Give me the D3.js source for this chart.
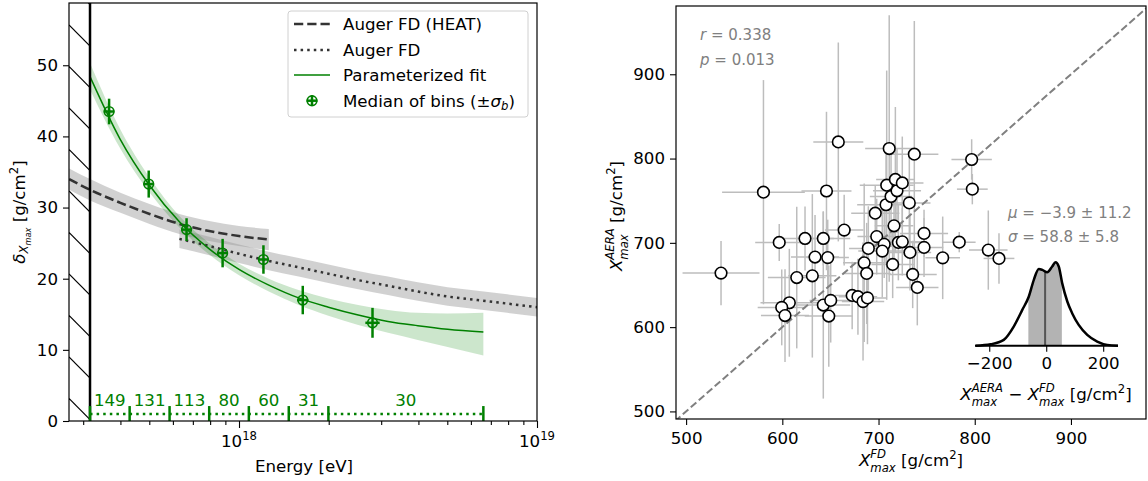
<!DOCTYPE html>
<html><head><meta charset="utf-8">
<script src="https://cdn.jsdelivr.net/npm/d3@7"></script>
<style>body{margin:0;background:#fff} text{font-family:"DejaVu Sans",sans-serif;white-space:pre}</style>
</head><body><svg id="c" width="1148" height="481"></svg>
<script>
// ---------------- DATA (left panel) ----------------
const thresholdLgE = 17.5;
const binEdgesLgE = [17.5, 17.633, 17.767, 17.9, 18.033, 18.167, 18.3, 18.82];
const binCounts = [149, 131, 113, 80, 60, 31, 30];
const medianLgE = [17.564, 17.697, 17.824, 17.945, 18.082, 18.214, 18.448];
const medianVal = [43.5, 33.3, 26.9, 23.6, 22.7, 17.0, 13.8];
const medianErr = [1.8, 1.9, 1.6, 2.0, 2.0, 2.0, 2.1];
const medianLgEErr = [0.018, 0.018, 0.018, 0.018, 0.018, 0.019, 0.024];
const fitLgE = [17.5, 17.6, 17.7, 17.8, 17.9, 18.0, 18.1, 18.2, 18.3, 18.4, 18.5, 18.6, 18.7, 18.82];
const fitVal = [48.4, 39.7, 33.1, 28.0, 24.2, 21.3, 19.1, 17.3, 16.0, 14.9, 14.0, 13.4, 12.9, 12.5];
const fitLo  = [46.6, 38.4, 32.1, 27.2, 23.4, 20.5, 18.2, 16.3, 14.8, 13.5, 12.4, 11.4, 10.4, 9.2];
const fitHi  = [50.3, 41.1, 34.2, 28.8, 25.0, 22.1, 20.0, 18.4, 17.2, 16.3, 15.6, 15.2, 15.1, 15.2];
const heatLgE = [17.43, 17.5, 17.6, 17.7, 17.8, 17.9, 18.0, 18.1];
const heatVal = [34.0, 32.5, 30.7, 29.1, 27.7, 26.7, 26.0, 25.5];
const heatLo  = [32.5, 31.0, 29.3, 27.7, 26.3, 25.3, 24.6, 24.0];
const heatHi  = [35.5, 34.0, 32.1, 30.5, 29.1, 28.1, 27.4, 27.0];
const fdLgE = [17.8, 17.9, 18.0, 18.1, 18.2, 18.3, 18.4, 18.5, 18.6, 18.7, 18.8, 18.9, 19.0];
const fdVal = [25.6, 24.6, 23.5, 22.5, 21.6, 20.7, 19.8, 19.0, 18.2, 17.5, 17.0, 16.5, 16.0];
const fdLo  = [24.3, 23.3, 22.2, 21.2, 20.3, 19.4, 18.5, 17.7, 16.9, 16.2, 15.7, 15.2, 14.7];
const fdHi  = [26.9, 25.9, 24.8, 23.8, 22.9, 22.0, 21.1, 20.3, 19.5, 18.8, 18.3, 17.8, 17.3];
const leftYTicks = [0, 10, 20, 30, 40, 50];
const leftXMajor = [18, 19];
const legendLabels = ["Auger FD (HEAT)", "Auger FD", "Parameterized fit", "Median of bins"];

// ---------------- DATA (right panel) ----------------
const xFD = [536.3,580.4,658.2,645.9,664.3,596.8,623.6,642.6,634.0,647.2,615.0,631.2,607.3,599.4,602.8,642.6,650.3,648.3,672.6,678.6,683.9,688.5,685.1,687.7,689.4,696.6,698.1,705.9,703.9,707.8,713.0,719.2,708.5,717.5,724.7,711.1,737.2,796.8,797.5,732.0,716.1,747.3,720.6,724.7,783.9,732.7,747.3,766.7,814.1,825.2,714.7,735.5,740.3];
const yAERA = [664.1,760.1,819.7,761.5,715.1,700.5,705.2,705.2,683.1,682.5,658.8,660.9,628.9,623.4,613.7,626.2,631.7,613.1,637.6,636.1,630.3,634.7,676.3,663.7,693.4,735.2,707.4,698.2,690.2,745.2,755.0,761.7,768.4,775.2,771.1,811.9,805.2,798.9,763.7,747.4,720.2,711.2,700.5,701.2,700.8,688.6,694.6,682.2,691.4,681.5,674.4,662.5,647.1];
const xErr = [40,43,26,26,20,25,30,28,25,22,30,25,30,25,25,28,22,25,18,20,22,20,22,25,20,25,20,22,25,30,22,25,28,20,22,25,25,21,16,22,20,25,22,20,17,22,20,18,20,16,22,25,22];
const yErr = [38,133,118,94,42,22,38,32,50,45,84,97,64,45,55,111,50,60,40,45,70,55,94,60,50,33,45,40,55,70,60,50,136,86,55,158,158,24,18,59,40,28,45,40,12,45,35,49,47,30,40,40,45];
const rightTicks = [500, 600, 700, 800, 900];
const statR = "0.338", statP = "0.013";
const diffMean = -3.9, diffMeanErr = 11.2, diffSigma = 58.8, diffSigmaErr = 5.8;
const kdeX = [-248,-195,-149,-114,-84,-61,-43.5,-26,-14,3.5,21,32.6,44,56,74,91,114,144,179,214,252];
const kdeY = [0,0.017,0.07,0.23,0.43,0.59,0.79,0.92,0.91,0.88,0.95,1.0,0.95,0.75,0.53,0.39,0.25,0.13,0.05,0.01,0];
const insetTicks = [-200, 0, 200];

// ---------------- helpers ----------------
const svg = d3.select('#c');
const FS = 16.67;
const GREEN = '#008000';
const SUP = -0.46, SUB = 0.36;

function mathText(parent, x, y, parts, opt) {
  opt = opt || {};
  const fs = opt.fs || FS, color = opt.color || '#000';
  const outer = parent.append('g');
  const grp = outer.append('g');
  let cx = 0, prevStart = 0;
  parts.forEach(p => {
    const sz = fs * (p.sc || 1);
    const start = p.stack ? prevStart : cx;
    const t = grp.append('text').attr('x', start).attr('y', (p.dy || 0) * fs)
      .attr('font-size', sz).attr('font-style', p.it ? 'italic' : 'normal')
      .attr('fill', color).text(p.t);
    const w = t.node().getComputedTextLength();
    if (!p.stack) { prevStart = start; cx = start + w; }
    else { cx = Math.max(cx, start + w); }
  });
  const anchor = opt.anchor || 'start';
  const shift = anchor === 'middle' ? -cx / 2 : anchor === 'end' ? -cx : 0;
  grp.attr('transform', `translate(${shift},0)`);
  outer.attr('transform', `translate(${x},${y}) rotate(${opt.rotate || 0})`);
  return outer;
}

// ================= LEFT PANEL =================
const L = { x0: 69, x1: 537, y0: 3, y1: 421 };
const xL = d3.scaleLog().domain([Math.pow(10, 17.4295), 1e19]).range([L.x0, L.x1]);
const yL = d3.scaleLinear().domain([0, 58.75]).range([L.y1, L.y0]);
const E = lg => Math.pow(10, lg);

svg.append('clipPath').attr('id', 'clipL').append('rect')
  .attr('x', L.x0).attr('y', L.y0).attr('width', L.x1 - L.x0).attr('height', L.y1 - L.y0);
const gL = svg.append('g').attr('clip-path', 'url(#clipL)');

const bandArea = (lgs, lo, hi) => d3.area().x((d, i) => xL(E(lgs[i]))).y0((d, i) => yL(lo[i])).y1((d, i) => yL(hi[i])).curve(d3.curveMonotoneX)(lgs);
const lineGen = (lgs, vals) => d3.line().x((d, i) => xL(E(lgs[i]))).y((d, i) => yL(vals[i])).curve(d3.curveMonotoneX)(lgs);

gL.append('path').attr('d', bandArea(heatLgE, heatLo, heatHi)).attr('fill', '#999').attr('fill-opacity', 0.45);
gL.append('path').attr('d', bandArea(fdLgE, fdLo, fdHi)).attr('fill', '#999').attr('fill-opacity', 0.45);
gL.append('path').attr('d', bandArea(fitLgE, fitLo, fitHi)).attr('fill', GREEN).attr('fill-opacity', 0.2);

// hatched region below threshold
const hx1 = xL(E(thresholdLgE));
const gH = gL.append('g');
svg.append('clipPath').attr('id', 'clipH').append('rect')
  .attr('x', L.x0).attr('y', L.y0).attr('width', hx1 - L.x0).attr('height', L.y1 - L.y0);
gH.attr('clip-path', 'url(#clipH)');
for (let yy = -16.5; yy < L.y1 + 10; yy += 41.5) {
  gH.append('line').attr('x1', L.x0).attr('y1', yy).attr('x2', hx1).attr('y2', yy + (hx1 - L.x0))
    .attr('stroke', '#000').attr('stroke-width', 1.1);
}

gL.append('path').attr('d', lineGen(heatLgE, heatVal)).attr('fill', 'none').attr('stroke', '#333')
  .attr('stroke-width', 2.5).attr('stroke-dasharray', '9.25,4');
gL.append('path').attr('d', lineGen(fdLgE, fdVal)).attr('fill', 'none').attr('stroke', '#333')
  .attr('stroke-width', 2.5).attr('stroke-dasharray', '2.5,4.1');
gL.append('path').attr('d', lineGen(fitLgE, fitVal)).attr('fill', 'none').attr('stroke', GREEN)
  .attr('stroke-width', 1.5);

gL.append('line').attr('x1', hx1).attr('x2', hx1).attr('y1', L.y0).attr('y2', L.y1)
  .attr('stroke', '#000').attr('stroke-width', 2.5);

// bins
gL.append('line').attr('x1', xL(E(binEdgesLgE[0]))).attr('x2', xL(E(binEdgesLgE[binEdgesLgE.length - 1])))
  .attr('y1', yL(1)).attr('y2', yL(1)).attr('stroke', GREEN).attr('stroke-width', 2.5).attr('stroke-dasharray', '2.5,4.1');
gL.selectAll('.binTick').data(binEdgesLgE).enter().append('line')
  .attr('x1', d => xL(E(d))).attr('x2', d => xL(E(d))).attr('y1', yL(0)).attr('y2', yL(2.1))
  .attr('stroke', GREEN).attr('stroke-width', 2.5);
svg.selectAll('.binLab').data(binCounts).enter().append('text')
  .attr('x', (d, i) => (xL(E(binEdgesLgE[i])) + xL(E(binEdgesLgE[i + 1]))) / 2)
  .attr('y', 406).attr('text-anchor', 'middle').attr('font-size', FS).attr('fill', GREEN).text(d => d);

// medians
const gM = svg.append('g');
medianLgE.forEach((lg, i) => {
  const cx = xL(E(lg)), cy = yL(medianVal[i]);
  gM.append('line').attr('x1', cx).attr('x2', cx).attr('y1', yL(medianVal[i] - medianErr[i])).attr('y2', yL(medianVal[i] + medianErr[i]))
    .attr('stroke', GREEN).attr('stroke-width', 2.5);
  gM.append('line').attr('x1', xL(E(lg - medianLgEErr[i]))).attr('x2', xL(E(lg + medianLgEErr[i]))).attr('y1', cy).attr('y2', cy)
    .attr('stroke', GREEN).attr('stroke-width', 2.5);
  gM.append('circle').attr('cx', cx).attr('cy', cy).attr('r', 4.8).attr('fill', 'none')
    .attr('stroke', GREEN).attr('stroke-width', 1.6);
});

// axes
const axYL = svg.append('g').attr('transform', `translate(${L.x0},0)`)
  .call(d3.axisLeft(yL).tickValues(leftYTicks).tickSize(6).tickPadding(5).tickFormat(d3.format('d')));
const minorL = [];
for (let dec = 17; dec <= 18; dec++) for (let m = 2; m <= 9; m++) { const v = m * Math.pow(10, dec); if (v > xL.domain()[0] && v < 1e19) minorL.push(v); }
const axXLm = svg.append('g').attr('transform', `translate(0,${L.y1})`)
  .call(d3.axisBottom(xL).tickValues(minorL).tickSize(4).tickFormat(''));
const axXL = svg.append('g').attr('transform', `translate(0,${L.y1})`)
  .call(d3.axisBottom(xL).tickValues(leftXMajor.map(E)).tickSize(7).tickFormat(''));
[axYL, axXLm, axXL].forEach(a => {
  a.select('.domain').remove();
  a.selectAll('line').attr('stroke-width', 1.1);
  a.selectAll('text').attr('font-size', FS).attr('font-family', null).attr('fill', '#000');
});
leftXMajor.forEach(p => {
  mathText(svg, xL(E(p)), 447, [{ t: '10' }, { t: String(p), sc: 0.7, dy: -0.42 }], { anchor: 'middle' });
});
svg.append('rect').attr('x', L.x0).attr('y', L.y0).attr('width', L.x1 - L.x0).attr('height', L.y1 - L.y0)
  .attr('fill', 'none').attr('stroke', '#000').attr('stroke-width', 1.2);

svg.append('text').attr('x', (L.x0 + L.x1) / 2 + 1).attr('y', 472).attr('text-anchor', 'middle').attr('font-size', FS).text('Energy [eV]');
mathText(svg, 25, 212, [
  { t: 'δ', it: true }, { t: 'X', it: true, sc: 0.7, dy: 0.2 }, { t: 'max', it: true, sc: 0.49, dy: 0.33 },
  { t: ' [g/cm' }, { t: '2', sc: 0.7, dy: -0.4 }, { t: ']' }
], { anchor: 'middle', rotate: -90 });

// legend
const lg = svg.append('g');
lg.append('rect').attr('x', 288).attr('y', 11).attr('width', 240).attr('height', 106).attr('rx', 3)
  .attr('fill', '#fff').attr('fill-opacity', 0.8).attr('stroke', '#d0d0d0').attr('stroke-width', 1);
const rows = [24, 50, 75, 100.7];
lg.append('line').attr('x1', 294).attr('x2', 330).attr('y1', rows[0]).attr('y2', rows[0]).attr('stroke', '#333').attr('stroke-width', 2.5).attr('stroke-dasharray', '9.25,4');
lg.append('line').attr('x1', 294).attr('x2', 330).attr('y1', rows[1]).attr('y2', rows[1]).attr('stroke', '#333').attr('stroke-width', 2.5).attr('stroke-dasharray', '2.5,4.1');
lg.append('line').attr('x1', 294).attr('x2', 330).attr('y1', rows[2]).attr('y2', rows[2]).attr('stroke', GREEN).attr('stroke-width', 1.5);
lg.append('line').attr('x1', 312).attr('x2', 312).attr('y1', rows[3] - 5.5).attr('y2', rows[3] + 5.5).attr('stroke', GREEN).attr('stroke-width', 2.5);
lg.append('line').attr('x1', 306.5).attr('x2', 317.5).attr('y1', rows[3]).attr('y2', rows[3]).attr('stroke', GREEN).attr('stroke-width', 2.5);
lg.append('circle').attr('cx', 312).attr('cy', rows[3]).attr('r', 4.8).attr('fill', 'none').attr('stroke', GREEN).attr('stroke-width', 1.6);
for (let i = 0; i < 3; i++) lg.append('text').attr('x', 343).attr('y', rows[i] + 6).attr('font-size', FS).text(legendLabels[i]);
mathText(lg, 343, rows[3] + 6, [{ t: legendLabels[3] + ' (±' }, { t: 'σ', it: true }, { t: 'b', it: true, sc: 0.7, dy: 0.22 }, { t: ')' }]);

// ================= RIGHT PANEL =================
const R = { x0: 676, x1: 1146, y0: 6, y1: 419 };
const xR = d3.scaleLinear().domain([489.5, 978]).range([R.x0, R.x1]);
const yR = d3.scaleLinear().domain([491, 981]).range([R.y1, R.y0]);
svg.append('clipPath').attr('id', 'clipR').append('rect')
  .attr('x', R.x0).attr('y', R.y0).attr('width', R.x1 - R.x0).attr('height', R.y1 - R.y0);
const gR = svg.append('g').attr('clip-path', 'url(#clipR)');

const pts = xFD.map((x, i) => ({ x, y: yAERA[i], ex: xErr[i], ey: yErr[i] }));
gR.selectAll('.ex').data(pts).enter().append('line')
  .attr('x1', d => xR(d.x - d.ex)).attr('x2', d => xR(d.x + d.ex)).attr('y1', d => yR(d.y)).attr('y2', d => yR(d.y))
  .attr('stroke', '#bdbdbd').attr('stroke-width', 1.5);
gR.selectAll('.ey').data(pts).enter().append('line')
  .attr('x1', d => xR(d.x)).attr('x2', d => xR(d.x)).attr('y1', d => yR(d.y - d.ey)).attr('y2', d => yR(d.y + d.ey))
  .attr('stroke', '#bdbdbd').attr('stroke-width', 1.5);
gR.append('line').attr('x1', xR(480)).attr('y1', yR(480)).attr('x2', xR(990)).attr('y2', yR(990))
  .attr('stroke', '#808080').attr('stroke-width', 2).attr('stroke-dasharray', '7.4,3.2');
gR.selectAll('.pt').data(pts).enter().append('circle')
  .attr('cx', d => xR(d.x)).attr('cy', d => yR(d.y)).attr('r', 5.8)
  .attr('fill', '#fff').attr('stroke', '#000').attr('stroke-width', 1.6);

const axXR = svg.append('g').attr('transform', `translate(0,${R.y1})`)
  .call(d3.axisBottom(xR).tickValues(rightTicks).tickSize(6).tickPadding(7).tickFormat(d3.format('d')));
const axYR = svg.append('g').attr('transform', `translate(${R.x0},0)`)
  .call(d3.axisLeft(yR).tickValues(rightTicks).tickSize(6).tickPadding(5).tickFormat(d3.format('d')));
[axXR, axYR].forEach(a => {
  a.select('.domain').remove();
  a.selectAll('line').attr('stroke-width', 1.1);
  a.selectAll('text').attr('font-size', FS).attr('font-family', null).attr('fill', '#000');
});
svg.append('rect').attr('x', R.x0).attr('y', R.y0).attr('width', R.x1 - R.x0).attr('height', R.y1 - R.y0)
  .attr('fill', 'none').attr('stroke', '#000').attr('stroke-width', 1.2);

mathText(svg, 911, 466, [
  { t: 'X', it: true }, { t: 'FD', it: true, sc: 0.7, dy: SUP }, { t: 'max', it: true, sc: 0.7, dy: SUB, stack: true },
  { t: ' [g/cm' }, { t: '2', sc: 0.7, dy: -0.4 }, { t: ']' }
], { anchor: 'middle' });
mathText(svg, 622, 216, [
  { t: 'X', it: true }, { t: 'AERA', it: true, sc: 0.7, dy: SUP }, { t: 'max', it: true, sc: 0.7, dy: SUB, stack: true },
  { t: ' [g/cm' }, { t: '2', sc: 0.7, dy: -0.4 }, { t: ']' }
], { anchor: 'middle', rotate: -90 });

const GREY = '#808080', FS2 = 15;
mathText(svg, 700, 40, [{ t: 'r', it: true }, { t: ' = ' + statR }], { fs: FS2, color: GREY });
mathText(svg, 700, 65, [{ t: 'p', it: true }, { t: ' = ' + statP }], { fs: FS2, color: GREY });
mathText(svg, 1008, 218, [{ t: 'μ', it: true }, { t: ' = −' + Math.abs(diffMean).toFixed(1) + ' ± ' + diffMeanErr.toFixed(1) }], { fs: FS2, color: GREY });
mathText(svg, 1008, 242, [{ t: 'σ', it: true }, { t: ' = ' + diffSigma.toFixed(1) + ' ± ' + diffSigmaErr.toFixed(1) }], { fs: FS2, color: GREY });

// inset KDE
const xI = d3.scaleLinear().domain([-250, 252]).range([975, 1118]);
const yI = d3.scaleLinear().domain([0, 1]).range([345.7, 262.3]);
const kde = kdeX.map((x, i) => ({ x, y: kdeY[i] }));
const areaI = d3.area().x(d => xI(d.x)).y0(yI(0)).y1(d => yI(d.y)).curve(d3.curveMonotoneX);
const lineI = d3.line().x(d => xI(d.x)).y(d => yI(d.y)).curve(d3.curveMonotoneX);
svg.append('clipPath').attr('id', 'clipSig').append('rect')
  .attr('x', xI(diffMean - diffSigma)).attr('y', 250).attr('width', xI(diffMean + diffSigma) - xI(diffMean - diffSigma)).attr('height', 100);
svg.append('clipPath').attr('id', 'clipKde').append('path').attr('d', areaI(kde));
svg.append('path').attr('d', areaI(kde)).attr('fill', '#b3b3b3').attr('clip-path', 'url(#clipSig)');
svg.append('g').attr('clip-path', 'url(#clipKde)').append('line')
  .attr('x1', xI(diffMean)).attr('x2', xI(diffMean)).attr('y1', yI(0)).attr('y2', yI(1.1))
  .attr('stroke', '#555').attr('stroke-width', 2);
svg.append('path').attr('d', lineI(kde)).attr('fill', 'none').attr('stroke', '#000').attr('stroke-width', 2.5);
const axI = svg.append('g').attr('transform', 'translate(0,345.7)')
  .call(d3.axisBottom(xI).tickValues(insetTicks).tickSize(6).tickPadding(5).tickSizeOuter(0));
axI.select('.domain').attr('stroke-width', 2).attr('d', `M${xI.range()[0]},0H${xI.range()[1]}`);
axI.selectAll('line').attr('stroke-width', 1.1);
axI.selectAll('text').attr('font-size', FS).attr('font-family', null).attr('fill', '#000');
mathText(svg, 1046, 400, [
  { t: 'X', it: true }, { t: 'AERA', it: true, sc: 0.7, dy: SUP }, { t: 'max', it: true, sc: 0.7, dy: SUB, stack: true },
  { t: ' − ' }, { t: 'X', it: true }, { t: 'FD', it: true, sc: 0.7, dy: SUP }, { t: 'max', it: true, sc: 0.7, dy: SUB, stack: true },
  { t: ' [g/cm' }, { t: '2', sc: 0.7, dy: -0.4 }, { t: ']' }
], { anchor: 'middle' });
</script></body></html>
